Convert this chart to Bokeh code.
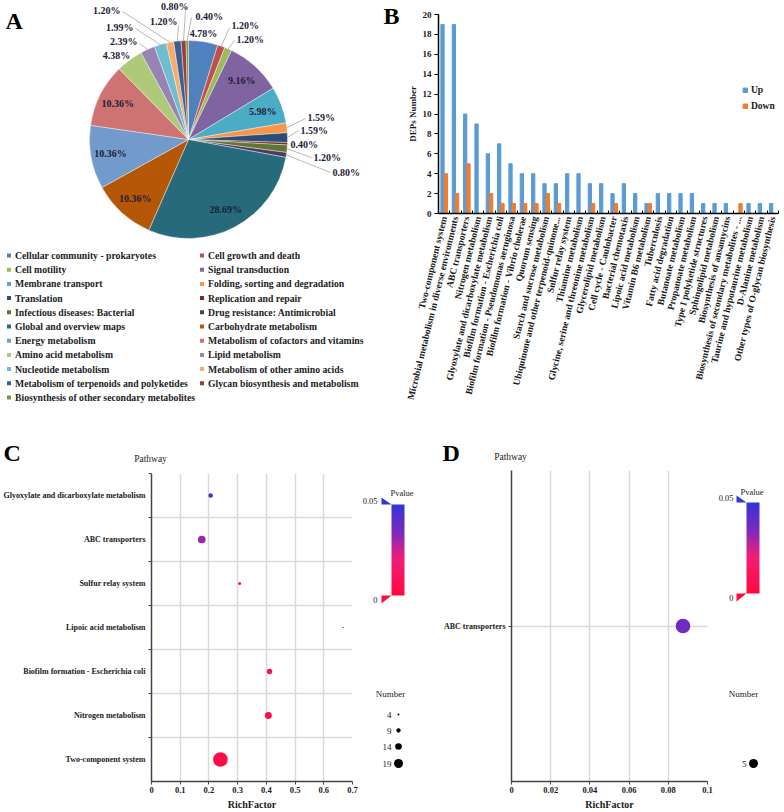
import numpy as np
from bokeh.plotting import figure
from bokeh.layouts import row, column
from bokeh.models import (Range1d, FixedTicker, LinearColorMapper, ColumnDataSource,
                          NumeralTickFormatter)
from bokeh.embed import file_html
from bokeh.resources import INLINE
from bokeh.core.properties import value

SERIF = "Liberation Serif"
INK = "#1a1a1a"

# ---------------- data ----------------
pie_categories = ["Cellular community - prokaryotes", "Cell growth and death", "Cell motility",
                  "Signal transduction", "Membrane transport", "Folding, sorting and degradation",
                  "Translation", "Replication and repair", "Infectious diseases: Bacterial",
                  "Drug resistance: Antimicrobial", "Global and overview maps", "Carbohydrate metabolism",
                  "Energy metabolism", "Metabolism of cofactors and vitamins", "Amino acid metabolism",
                  "Lipid metabolism", "Nucleotide metabolism", "Metabolism of other amino acids",
                  "Metabolism of terpenoids and polyketides", "Glycan biosynthesis and metabolism",
                  "Biosynthesis of other secondary metabolites"]
pie_percent = [4.78, 1.20, 1.20, 9.16, 5.98, 1.59, 1.59, 0.40, 1.20, 0.80, 28.69,
               10.36, 10.36, 10.36, 4.38, 2.39, 1.99, 1.20, 1.20, 0.80, 0.40]
pie_colors = ["#4F81BD", "#C0504D", "#9BBB59", "#8064A2", "#4BACC6", "#F79646",
              "#2C4D75", "#772C2A", "#5F7530", "#4D3B62", "#276A7C", "#B65708",
              "#729ACA", "#CD7371", "#AFC97A", "#9983B5", "#6FBDD1", "#F9AB6B",
              "#3A6194", "#9A3F3D", "#7C9647"]

bar_pathways = ["Two-component system", "Microbial metabolism in diverse environments",
                "ABC transporters", "Nitrogen metabolism", "Glyoxylate and dicarboxylate metabolism",
                "Biofilm formation - Escherichia coli", "Biofilm formation - Pseudomonas aeruginosa",
                "Biofilm formation - Vibrio cholerae", "Quorum sensing", "Starch and sucrose metabolism",
                "Ubiquinone and other terpenoid-quinone...", "Sulfur relay system", "Thiamine metabolism",
                "Glycine, serine and threonine metabolism", "Glycerolipid metabolism",
                "Cell cycle - Caulobacter", "Bacterial chemotaxis", "Lipoic acid metabolism",
                "Vitamin B6 metabolism", "Tuberculosis", "Fatty acid degradation", "Butanoate metabolism",
                "Propanoate metabolism", "Type I polyketide structures", "Sphingolipid metabolism",
                "Biosynthesis of ansamycins", "Biosynthesis of secondary metabolites - ...",
                "Taurine and hypotaurine metabolism", "D-Alanine metabolism",
                "Other types of O-glycan biosynthesis"]
bar_up = [19, 19, 10, 9, 6, 7, 5, 4, 4, 3, 3, 4, 4, 3, 3, 2, 3, 2, 1, 2, 2, 2, 2, 1, 1, 1, 0, 1, 1, 1]
bar_down = [4, 2, 5, 0, 2, 1, 1, 1, 1, 2, 1, 0, 0, 1, 0, 1, 0, 0, 1, 0, 0, 0, 0, 0, 0, 0, 1, 0, 0, 0]
bar_yticks = [0, 2, 4, 6, 8, 10, 12, 14, 16, 18, 20]

c_pathways = ["Two-component system", "Nitrogen metabolism", "Biofilm formation - Escherichia coli",
              "Lipoic acid metabolism", "Sulfur relay system", "ABC transporters",
              "Glyoxylate and dicarboxylate metabolism"]
c_richfactor = [0.240, 0.407, 0.411, 0.667, 0.307, 0.175, 0.206]
c_number = [19, 9, 7, 2, 4, 10, 6]
c_pvalue = [0.002, 0.005, 0.007, 0.011, 0.015, 0.032, 0.045]
c_xticks = [0, 0.1, 0.2, 0.3, 0.4, 0.5, 0.6, 0.7]
c_size_legend = [4, 9, 14, 19]

d_pathways = ["ABC transporters"]
d_richfactor = [0.0875]
d_number = [5]
d_pvalue = [0.037]
d_xticks = [0, 0.02, 0.04, 0.06, 0.08, 0.1]
d_size_legend = [5]

pvalue_low, pvalue_high = 0, 0.05

# ---------------- palette for P value ----------------
stop_t = [0.0, 0.4, 0.5, 0.7, 1.0]
stop_c = [(255, 10, 64), (240, 30, 120), (208, 32, 143), (122, 42, 192), (53, 53, 216)]
palette = []
for t in np.linspace(0, 1, 128):
    rgb = [int(round(np.interp(t, stop_t, [c[k] for c in stop_c]))) for k in range(3)]
    palette.append("#%02x%02x%02x" % tuple(rgb))
mapper = LinearColorMapper(palette=palette, low=pvalue_low, high=pvalue_high)


def canvas(x0, y0, w, h):
    """Blank figure whose data units are page pixels (x right, y = -page_y)."""
    p = figure(width=w, height=h, x_range=Range1d(x0, x0 + w), y_range=Range1d(-(y0 + h), -y0),
               output_backend="svg", toolbar_location=None, x_axis_location=None,
               y_axis_location=None, min_border=0, min_border_left=0, min_border_right=0,
               min_border_top=0, min_border_bottom=0, frame_align=False)
    p.outline_line_color = None
    p.grid.visible = False
    p.background_fill_color = "white"
    return p


def txt(p, xs, ys, texts, size, bold=True, align="left", color=INK, baseline="middle"):
    p.text(x=xs, y=[-v for v in ys], text=texts, text_font=value(SERIF), text_font_size=size,
           text_font_style="bold" if bold else "normal", text_align=align,
           text_baseline=baseline, text_color=color)


# ================= Panel A : pie =================
pA = canvas(0, 0, 400, 416)
PCX, PCY, PR = 188, 139, 99
frac = np.array(pie_percent) / sum(pie_percent)
cum = np.concatenate([[0.0], np.cumsum(frac)])
start = np.pi / 2 - 2 * np.pi * cum[1:]
end = np.pi / 2 - 2 * np.pi * cum[:-1]
mid = (start + end) / 2
pA.wedge(x=PCX, y=-PCY, radius=PR, start_angle=start, end_angle=end,
         fill_color=pie_colors, line_color="white", line_width=0.4)

labels = ["%.2f%%" % v for v in pie_percent]
inside = [i for i, v in enumerate(pie_percent) if v >= 5]
txt(pA, [PCX + 0.8 * PR * np.cos(mid[i]) for i in inside],
    [PCY - 0.8 * PR * np.sin(mid[i]) for i in inside],
    [labels[i] for i in inside], "10px", align="center", color="#1c1c38")

# outside labels: index -> (text x, text y, align, leader attach point or None)
outside = {
    0: (203, 33, "center", None),
    1: (231, 25, "left", (229, 27)),
    2: (236, 39, "left", (234, 40)),
    5: (307, 117, "left", (305, 118)),
    6: (300, 130, "left", (298, 130)),
    7: (290, 144, "left", (288, 144)),
    8: (313, 157, "left", (311, 157)),
    9: (332, 172, "left", (330, 172)),
    14: (116, 55, "center", None),
    15: (137, 41, "right", (139, 43)),
    16: (133, 27, "right", (135, 28)),
    17: (120, 10, "right", (122, 11)),
    18: (177, 21, "right", (178, 25)),
    19: (188, 6, "right", (185, 10)),
    20: (195, 16, "left", (191, 17)),
}
for i, (tx, ty, al, att) in outside.items():
    txt(pA, [tx], [ty], [labels[i]], "10px", align=al, color="#1c1c38")
    if att is not None:
        ex = PCX + PR * np.cos(mid[i])
        ey = PCY - PR * np.sin(mid[i])
        pA.line(x=[att[0], ex], y=[-att[1], -ey], line_color="#a6a6a6", line_width=0.8)

# legend of A (two columns, row-wise)
lx = [8.5 if i % 2 == 0 else 201.5 for i in range(len(pie_categories))]
ly = [255 + 14.2 * (i // 2) for i in range(len(pie_categories))]
pA.scatter(x=lx, y=[-v for v in ly], marker="square", size=4, fill_color=pie_colors, line_color=None)
txt(pA, [v + 6 for v in lx], ly, pie_categories, "9.7px", color="#222222")

txt(pA, [5], [20], ["A"], "24px", color="black")
txt(pA, [383], [15], ["B"], "24px", color="black")

# ================= Panel B : bars =================
pB = figure(width=380, height=416, x_range=Range1d(-0.5, len(bar_pathways) - 0.5),
            y_range=Range1d(0, 20), output_backend="svg", toolbar_location=None,
            min_border_left=38, min_border_right=2, min_border_top=14, min_border_bottom=203,
            frame_align=False)
pB.outline_line_color = None
pB.grid.visible = False
xi = np.arange(len(bar_pathways))
pB.vbar(x=xi - 0.145, top=bar_up, width=0.29, color="#5B9BD5", legend_label="Up")
pB.vbar(x=xi + 0.145, top=bar_down, width=0.29, color="#ED7D31", legend_label="Down")

xa = pB.xaxis[0]
xa.ticker = FixedTicker(ticks=list(xi), minor_ticks=[i + 0.5 for i in range(-1, len(bar_pathways))])
xa.major_label_overrides = {int(i): n for i, n in zip(xi, bar_pathways)}
xa.major_label_orientation = 1.33
xa.major_tick_in = 0
xa.major_tick_out = 0
xa.minor_tick_in = 3
xa.minor_tick_out = 0
xa.minor_tick_line_color = "black"
xa.axis_line_color = "black"
xa.axis_line_width = 1.5
xa.major_label_text_font = SERIF
xa.major_label_text_font_style = "bold"
xa.major_label_text_font_size = "9.5px"
xa.major_label_text_color = INK
xa.major_label_standoff = 3

ya = pB.yaxis[0]
ya.ticker = FixedTicker(ticks=bar_yticks, minor_ticks=[])
ya.major_tick_in = 0
ya.major_tick_out = 4
ya.major_tick_line_color = "black"
ya.axis_line_color = "black"
ya.axis_line_width = 1.5
ya.major_label_text_font = SERIF
ya.major_label_text_font_style = "bold"
ya.major_label_text_font_size = "9px"
ya.major_label_text_color = INK
ya.major_label_standoff = 3
ya.axis_label = "DEPs Number"
ya.axis_label_text_font = SERIF
ya.axis_label_text_font_style = "bold"
ya.axis_label_text_font_size = "9px"
ya.axis_label_text_color = INK
ya.axis_label_standoff = 2

lg = pB.legend[0]
lg.location = (304, 101)
lg.border_line_color = None
lg.background_fill_alpha = 0
lg.padding = 0
lg.margin = 0
lg.spacing = 3
lg.glyph_width = 6
lg.glyph_height = 6
lg.label_height = 13
lg.label_standoff = 3
lg.label_text_font = SERIF
lg.label_text_font_style = "bold"
lg.label_text_font_size = "9.5px"
lg.label_text_color = INK


# ================= Panels C and D : bubble plots =================
def bubble(width, height, x0_frame, x1_frame, top, xr, xticks, pathways, rf, num, pv, gridded_between):
    p = figure(width=width, height=height, x_range=Range1d(*xr),
               y_range=Range1d(0.5, len(pathways) + 0.5), output_backend="svg",
               toolbar_location=None, min_border_left=x0_frame, min_border_right=x1_frame,
               min_border_top=top, min_border_bottom=29, frame_align=False)
    p.outline_line_color = None
    ys = list(range(1, len(pathways) + 1))
    src = ColumnDataSource(dict(rf=rf, y=ys, p=pv,
                                sz=[n * 14.6 / max(num) for n in num]))
    p.scatter("rf", "y", size="sz", source=src,
              fill_color={"field": "p", "transform": mapper}, line_color=None)
    xa = p.xaxis[0]
    xa.ticker = FixedTicker(ticks=xticks, minor_ticks=[])
    xa.formatter = NumeralTickFormatter(format="0.[00]")
    xa.major_tick_out = 3
    xa.major_tick_in = 0
    xa.axis_line_color = "#444444"
    xa.axis_line_width = 1.5
    xa.major_tick_line_color = "#444444"
    xa.major_label_text_font = SERIF
    xa.major_label_text_font_style = "bold"
    xa.major_label_text_font_size = "8.5px"
    xa.major_label_text_color = INK
    xa.major_label_standoff = 2
    xa.axis_label = "RichFactor"
    xa.axis_label_text_font = SERIF
    xa.axis_label_text_font_style = "bold"
    xa.axis_label_text_font_size = "10px"
    xa.axis_label_text_color = INK
    xa.axis_label_standoff = 3
    ya = p.yaxis[0]
    if gridded_between:
        ya.ticker = FixedTicker(ticks=ys, minor_ticks=[y + 0.5 for y in ys])
        ya.major_tick_out = 0
        ya.minor_tick_out = 3
        ya.minor_tick_in = 0
        ya.minor_tick_line_color = "#444444"
        p.ygrid.grid_line_color = None
        p.ygrid.minor_grid_line_color = "#d9d9d9"
        p.ygrid.minor_grid_line_width = 1.5
    else:
        ya.ticker = FixedTicker(ticks=ys, minor_ticks=[])
        ya.major_tick_out = 3
        p.ygrid.grid_line_color = "#d9d9d9"
        p.ygrid.grid_line_width = 1.5
    ya.major_tick_in = 0
    ya.major_tick_line_color = "#444444"
    ya.major_label_overrides = {int(y): n for y, n in zip(ys, pathways)}
    ya.axis_line_color = "#444444"
    ya.axis_line_width = 1.5
    ya.major_label_text_font = SERIF
    ya.major_label_text_font_style = "bold"
    ya.major_label_text_font_size = "8px"
    ya.major_label_text_color = INK
    ya.major_label_standoff = 3
    p.xgrid.grid_line_color = "#d9d9d9"
    p.xgrid.grid_line_width = 1.5
    return p


# top strips carrying the panel letters and the "Pathway" captions
pCtop = canvas(0, 416, 358, 55)
txt(pCtop, [3], [452], ["C"], "24px", color="black")
txt(pCtop, [150], [458], ["Pathway"], "9.5px", bold=False, align="center")
pC = bubble(358, 341, 151, 6, 2, (0, 0.7), c_xticks, c_pathways, c_richfactor, c_number, c_pvalue, True)

pDtop = canvas(420, 416, 293, 52)
txt(pDtop, [442], [452], ["D"], "24px", color="black")
txt(pDtop, [510], [456], ["Pathway"], "9.5px", bold=False, align="center")
pD = bubble(293, 344, 91, 6, 2, (0, 0.1), d_xticks, d_pathways, d_richfactor, d_number, d_pvalue, False)


# ---------------- legends of C and D ----------------
def side_legend(x0, width, bar_x, bar_y0, bar_y1, tick_right, lab_top_y, lab_bot_y,
                pv_x, pv_y, num_x, num_y, item_right, dot_x, item_ys, sizes):
    p = canvas(x0, 416, width, 396)
    grad = np.linspace(pvalue_low, pvalue_high, 100).reshape(-1, 1)
    p.image(image=[grad], x=bar_x, y=-bar_y1, dw=13, dh=bar_y1 - bar_y0, color_mapper=mapper)
    p.patches(xs=[[bar_x - 10, bar_x, bar_x - 10], [bar_x - 10, bar_x, bar_x - 10]],
              ys=[[-(bar_y0 - 7), -bar_y0, -bar_y0], [-bar_y1, -bar_y1, -(bar_y1 + 8)]],
              fill_color=[palette[-1], palette[0]], line_color=None)
    txt(p, [tick_right, tick_right], [lab_top_y, lab_bot_y], ["%g" % pvalue_high, "%g" % pvalue_low],
        "8.5px", bold=False, align="right")
    txt(p, [pv_x], [pv_y], ["Pvalue"], "8.5px", bold=False, align="left")
    txt(p, [num_x], [num_y], ["Number"], "9px", bold=False, align="center")
    txt(p, [item_right] * len(sizes), item_ys, [str(s) for s in sizes], "9px", bold=False, align="right")
    p.scatter(x=[dot_x] * len(sizes), y=[-v for v in item_ys],
              size=[9.0 * s / max(sizes) for s in sizes], fill_color="black", line_color=None)
    return p


pCL = side_legend(358, 62, 391, 504, 595, 377, 500, 599, 390, 492, 390, 693, 391, 398,
                  [714, 730, 746, 763], c_size_legend)
pDL = side_legend(713, 67, 746, 502, 593, 733, 497, 597, 740, 491, 743, 693, 746, 753,
                  [763], d_size_legend)

layout = column(row(pA, pB), row(column(pCtop, pC), pCL, column(pDtop, pD), pDL))
open("out.html", "w").write(file_html(layout, INLINE))
